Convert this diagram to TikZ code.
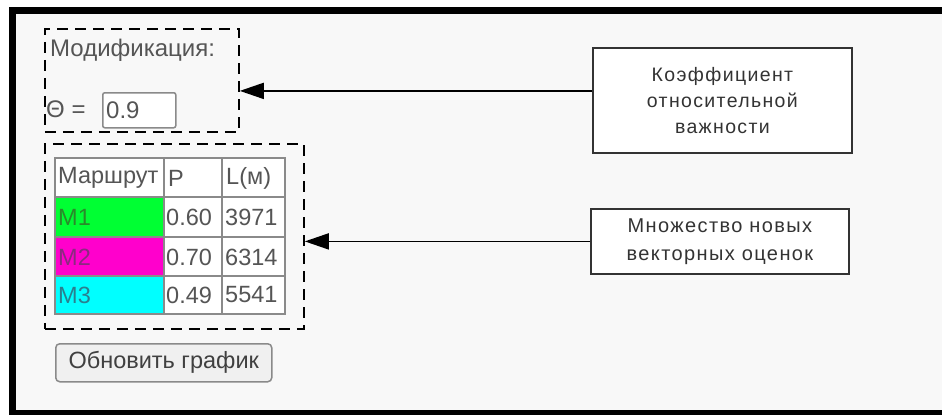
\documentclass[tikz,border=0pt]{standalone}
\usepackage{fontspec}
\setmainfont{Liberation Sans}
\newfontfamily\boxfont[LetterSpace=7]{Liberation Sans}
\usetikzlibrary{arrows.meta}
\definecolor{bgc}{HTML}{F8F8F8}
\definecolor{uitxt}{HTML}{555555}
\definecolor{gridc}{HTML}{8A8A8A}
\definecolor{mone}{HTML}{00FF33}
\definecolor{mtwo}{HTML}{FF00CC}
\definecolor{mthree}{HTML}{00FFFF}
\definecolor{tone}{HTML}{2A8A2A}
\definecolor{ttwo}{HTML}{8A2A80}
\definecolor{tthree}{HTML}{2A7F8F}
\begin{document}
\begin{tikzpicture}[x=1pt,y=-1pt,
  dbox/.style={draw=black, line width=1.8pt, dash pattern=on 11pt off 7pt, inner sep=0pt, anchor=north west},
  callout/.style={draw=black!80, line width=1.8pt, fill=white, inner sep=0pt, anchor=north west, align=center, text=black!80},
  uitext/.style={font=\fontsize{24}{28}\selectfont, text=uitxt, inner sep=0pt, anchor=west},
  celltxt/.style={font=\fontsize{23.5}{27}\selectfont, text=uitxt, inner sep=0pt, anchor=west},
  arr/.style={draw=black, line width=1.8pt, -{Triangle[length=24pt, width=16pt]}},
  gridline/.style={draw=gridc, line width=2pt}
]
\useasboundingbox (0,0) rectangle (942,415);
\fill[white] (0,0) rectangle (942,415);
\fill[bgc] (16,14) rectangle (942,410);
\fill[black] (9,7) rectangle (942,14);
\fill[black] (9,7) rectangle (16,415);
\fill[black] (9,410) rectangle (942,415);

% modification block
\node[dbox, minimum width=194pt, minimum height=103pt] (mod) at (44,28) {};
\node[uitext] (modlbl) at (50,50) {Модификация:};
\node[uitext] (theta) at (46,109) {Θ =};
\node[draw=gridc, line width=1.5pt, fill=white, rounded corners=2pt, minimum width=73pt, minimum height=35pt, inner sep=0pt, anchor=north west] (inp) at (102,92) {};
\node[uitext] (val) at (106,110) {0.9};

% table block
\node[dbox, minimum width=259pt, minimum height=185pt] (tblbox) at (44,143) {};
\fill[mone] (55,197) rectangle (164,237);
\fill[mtwo] (55,237) rectangle (164,276);
\fill[mthree] (55,276) rectangle (164,314);
\fill[white] (164,197) rectangle (285,314);
\fill[white] (55,158) rectangle (285,197);
\foreach \yy in {197,237,276} \draw[gridline] (55,\yy) -- (285,\yy);
\foreach \xx in {164,222} \draw[gridline] (\xx,158) -- (\xx,314);
\draw[gridline, line width=2.5pt] (55,158) rectangle (285,314);

\node[celltxt] (h1) at (58,178) {Маршрут};
\node[celltxt] (h2) at (168,178) {P};
\node[celltxt] (h3) at (226,178) {L(м)};
\node[celltxt, text=tone] (r1) at (58,217) {M1};
\node[celltxt] (p1) at (166,217) {0.60};
\node[celltxt] (l1) at (225,217) {3971};
\node[celltxt, text=ttwo] (r2) at (58,257) {M2};
\node[celltxt] (p2) at (166,257) {0.70};
\node[celltxt] (l2) at (225,257) {6314};
\node[celltxt, text=tthree] (r3) at (58,295) {M3};
\node[celltxt] (p3) at (166,295) {0.49};
\node[celltxt] (l3) at (225,295) {5541};

% button
\node[draw=gridc, line width=1.5pt, fill=black!6, rounded corners=4pt, minimum width=216pt, minimum height=38pt, inner sep=0pt, anchor=north west, font=\fontsize{23.5}{27}\selectfont, text=black!75] (btn) at (55,343) {Обновить график};

% callouts
\node[callout, minimum width=259pt, minimum height=105pt, font=\boxfont\fontsize{19.5}{26}\selectfont] (k) at (592,47) {Коэффициент\\относительной\\важности};
\node[callout, minimum width=258pt, minimum height=65pt, font=\boxfont\fontsize{20}{28}\selectfont] (v) at (590,208) {Множество новых\\векторных оценок};

\draw[arr] ([yshift=9.5pt]k.west) -- ([yshift=9.5pt]k.west -| mod.east);
\draw[arr] (v.west) -- (v.west -| tblbox.east);
\end{tikzpicture}
\end{document}
